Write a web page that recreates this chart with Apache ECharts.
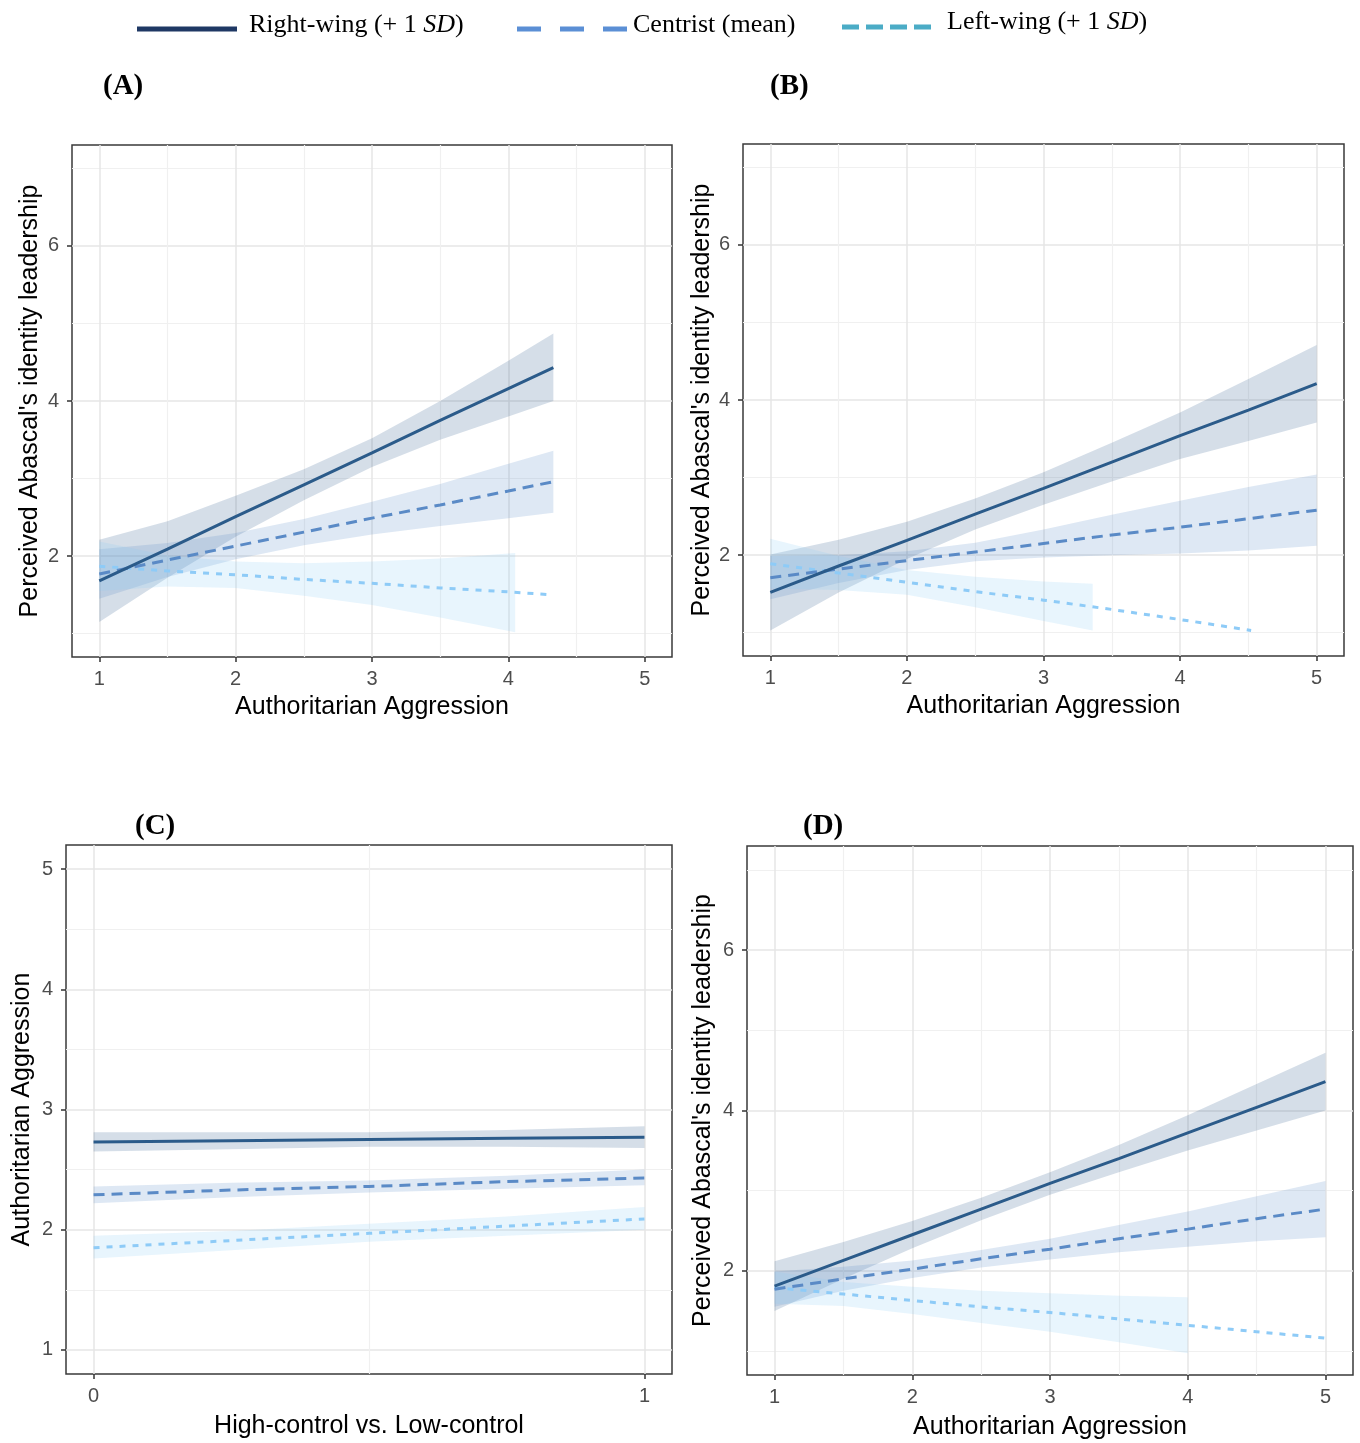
<!DOCTYPE html>
<html><head><meta charset="utf-8">
<script src="https://cdn.jsdelivr.net/npm/echarts@6/dist/echarts.min.js"></script>
<style>html,body{margin:0;padding:0;background:#fff}#c{width:1360px;height:1443px}</style>
</head><body><div id="c"></div>
<script>
// ---------------- DATA ----------------
// Panel A
const A_x          = [1, 1.5, 2, 2.5, 3, 3.5, 4, 4.33];
const A_right      = [1.68, 2.09, 2.51, 2.92, 3.33, 3.75, 4.16, 4.43];
const A_rightLo    = [1.15, 1.72, 2.25, 2.72, 3.15, 3.50, 3.80, 4.00];
const A_rightHi    = [2.21, 2.45, 2.78, 3.12, 3.52, 4.00, 4.52, 4.87];
const A_center     = [1.77, 1.95, 2.13, 2.31, 2.49, 2.66, 2.84, 2.96];
const A_centerLo   = [1.45, 1.73, 1.96, 2.14, 2.28, 2.39, 2.49, 2.56];
const A_centerHi   = [2.09, 2.17, 2.30, 2.48, 2.70, 2.93, 3.19, 3.36];
const A_left       = [1.87, 1.81, 1.76, 1.70, 1.65, 1.59, 1.54, 1.50];
const A_leftBandX  = [1, 1.5, 2, 2.5, 3, 3.5, 4.05];
const A_leftLo     = [1.55, 1.61, 1.59, 1.49, 1.37, 1.21, 1.02];
const A_leftHi     = [2.19, 2.01, 1.93, 1.91, 1.93, 1.97, 2.04];
// Panel B
const B_x          = [1, 1.5, 2, 2.5, 3, 3.5, 4, 4.5, 5];
const B_right      = [1.52, 1.86, 2.19, 2.53, 2.86, 3.20, 3.54, 3.87, 4.21];
const B_rightLo    = [1.03, 1.52, 1.95, 2.33, 2.65, 2.95, 3.24, 3.47, 3.71];
const B_rightHi    = [2.01, 2.20, 2.43, 2.73, 3.07, 3.45, 3.84, 4.27, 4.71];
const B_center     = [1.71, 1.82, 1.93, 2.04, 2.15, 2.26, 2.36, 2.47, 2.58];
const B_centerLo   = [1.43, 1.64, 1.81, 1.92, 1.97, 2.00, 2.02, 2.06, 2.12];
const B_centerHi   = [1.99, 2.00, 2.05, 2.16, 2.33, 2.52, 2.70, 2.88, 3.04];
const B_leftX      = [1, 1.5, 2, 2.5, 3, 3.5, 4, 4.52];
const B_left       = [1.89, 1.77, 1.65, 1.53, 1.42, 1.30, 1.17, 1.03];
const B_leftBandX  = [1, 1.5, 2, 2.5, 3, 3.36];
const B_leftLo     = [1.57, 1.55, 1.49, 1.33, 1.15, 1.03];
const B_leftHi     = [2.21, 1.99, 1.81, 1.72, 1.66, 1.63];
// Panel C
const C_x          = [0, 0.25, 0.5, 0.75, 1];
const C_right      = [2.73, 2.74, 2.75, 2.76, 2.77];
const C_rightLo    = [2.65, 2.67, 2.69, 2.69, 2.68];
const C_rightHi    = [2.81, 2.81, 2.81, 2.83, 2.86];
const C_center     = [2.29, 2.33, 2.36, 2.40, 2.43];
const C_centerLo   = [2.22, 2.27, 2.31, 2.34, 2.37];
const C_centerHi   = [2.36, 2.39, 2.41, 2.45, 2.50];
const C_left       = [1.85, 1.91, 1.97, 2.03, 2.09];
const C_leftLo     = [1.76, 1.83, 1.90, 1.95, 2.00];
const C_leftHi     = [1.95, 1.99, 2.05, 2.11, 2.19];
// Panel D
const D_x          = [1, 1.5, 2, 2.5, 3, 3.5, 4, 4.5, 5];
const D_right      = [1.81, 2.13, 2.45, 2.77, 3.09, 3.40, 3.72, 4.04, 4.36];
const D_rightLo    = [1.50, 1.90, 2.28, 2.63, 2.95, 3.23, 3.50, 3.75, 4.00];
const D_rightHi    = [2.12, 2.36, 2.62, 2.91, 3.23, 3.57, 3.94, 4.33, 4.72];
const D_center     = [1.77, 1.90, 2.02, 2.15, 2.27, 2.40, 2.52, 2.65, 2.77];
const D_centerLo   = [1.55, 1.75, 1.91, 2.04, 2.14, 2.23, 2.30, 2.37, 2.42];
const D_centerHi   = [1.99, 2.05, 2.13, 2.26, 2.40, 2.57, 2.74, 2.93, 3.12];
const D_left       = [1.79, 1.71, 1.63, 1.55, 1.48, 1.40, 1.32, 1.24, 1.16];
const D_leftBandX  = [1, 1.5, 2, 2.5, 3, 3.5, 4];
const D_leftLo     = [1.59, 1.56, 1.46, 1.35, 1.24, 1.11, 0.97];
const D_leftHi     = [1.99, 1.86, 1.80, 1.75, 1.72, 1.69, 1.67];

// Tick values
const ticksX15      = [1, 2, 3, 4, 5];
const minorX15      = [1.5, 2.5, 3.5, 4.5];
const ticksY17      = [2, 4, 6];
const minorY17      = [1, 3, 5, 7];
const ticksXC       = [0, 1];
const minorXC       = [0.5];
const ticksYC       = [1, 2, 3, 4, 5];
const minorYC       = [1.5, 2.5, 3.5, 4.5];

const seriesNames = ['Right-wing (+ 1 SD)', 'Centrist (mean)', 'Left-wing (+ 1 SD)'];
const panelLabels = ['(A)', '(B)', '(C)', '(D)'];
const xTitleAA = 'Authoritarian Aggression';
const yTitlePIL = "Perceived Abascal's identity leadership";
const xTitleC = 'High-control vs. Low-control';

// ---------------- STYLE / LAYOUT ----------------
const COL_R = '#2b5b8a', COL_C = '#5a8ac6', COL_L = '#8ecbf7';
const BAND = {r: 'rgba(43,91,138,0.2)', c: 'rgba(90,138,198,0.2)', l: 'rgba(142,203,247,0.2)'};
const SANS = 'Liberation Sans, Arial, sans-serif';
const SERIF = 'Liberation Serif, Times New Roman, serif';

const panels = [
  {grid:{left:72, top:145, width:600, height:512}, xr:[0.8,5.2], yr:[0.7,7.3], xt:ticksX15, xm:minorX15, yt:ticksY17, ym:minorY17, xn:xTitleAA, yn:yTitlePIL, xg:38, yg:29},
  {grid:{left:743, top:144, width:601, height:512}, xr:[0.8,5.2], yr:[0.7,7.3], xt:ticksX15, xm:minorX15, yt:ticksY17, ym:minorY17, xn:xTitleAA, yn:yTitlePIL, xg:38, yg:27},
  {grid:{left:66, top:845, width:606, height:529}, xr:[-0.05,1.05], yr:[0.8,5.2], xt:ticksXC, xm:minorXC, yt:ticksYC, ym:minorYC, xn:xTitleC, yn:xTitleAA, xg:40, yg:31},
  {grid:{left:747, top:846, width:606, height:529}, xr:[0.8,5.2], yr:[0.7,7.3], xt:ticksX15, xm:minorX15, yt:ticksY17, ym:minorY17, xn:xTitleAA, yn:yTitlePIL, xg:40, yg:31}
];

const grids = [], xAxes = [], yAxes = [], series = [];

function majorAxis(dim, gi, range, ticks, name, gap) {
  return {
    type: 'value', gridIndex: gi, min: range[0], max: range[1],
    position: dim === 'x' ? 'bottom' : 'left',
    name: name, nameLocation: 'middle', nameGap: gap,
    nameTextStyle: {fontFamily: SANS, fontSize: 25, color: '#000'},
    axisLine: {show: false, onZero: false},
    axisTick: {show: true, length: 5, customValues: ticks, lineStyle: {color: '#333', width: 1.5}},
    axisLabel: {show: true, customValues: ticks, margin: dim === 'x' ? 12 : 13, fontFamily: SANS, fontSize: 20, color: '#4d4d4d'},
    splitLine: {show: true, lineStyle: {color: '#e6e6e6', width: 1.5}},
    minorTick: {show: false}, minorSplitLine: {show: false}
  };
}
function minorAxis(dim, gi, range, ticks) {
  return {
    type: 'value', gridIndex: gi, min: range[0], max: range[1],
    position: dim === 'x' ? 'bottom' : 'left',
    axisLine: {show: false, onZero: false},
    axisTick: {show: false, customValues: ticks},
    axisLabel: {show: false, customValues: ticks},
    splitLine: {show: true, lineStyle: {color: '#f0f0f0', width: 1.2}}
  };
}
function band(ai, xs, lo, hi, fill) {
  return {
    type: 'custom', xAxisIndex: ai, yAxisIndex: ai, clip: true, silent: true,
    data: xs.map((x, i) => [x, lo[i], hi[i]]),
    renderItem: function (params, api) {
      if (params.dataIndex !== 0) return null;
      const pts = [];
      for (let i = 0; i < xs.length; i++) pts.push(api.coord([xs[i], hi[i]]));
      for (let i = xs.length - 1; i >= 0; i--) pts.push(api.coord([xs[i], lo[i]]));
      return {type: 'polygon', shape: {points: pts}, style: {fill: fill}};
    }
  };
}
function line(ai, name, xs, ys, color, type) {
  return {
    type: 'line', name: name, xAxisIndex: ai, yAxisIndex: ai, clip: true,
    symbol: 'none', showSymbol: false, silent: true,
    data: xs.map((x, i) => [x, ys[i]]),
    lineStyle: {color: color, width: 3, type: type, cap: 'butt'}
  };
}

const panelData = [
  {rx:A_x, r:A_right, rlo:A_rightLo, rhi:A_rightHi, cx:A_x, c:A_center, clo:A_centerLo, chi:A_centerHi, lx:A_x, l:A_left, lbx:A_leftBandX, llo:A_leftLo, lhi:A_leftHi},
  {rx:B_x, r:B_right, rlo:B_rightLo, rhi:B_rightHi, cx:B_x, c:B_center, clo:B_centerLo, chi:B_centerHi, lx:B_leftX, l:B_left, lbx:B_leftBandX, llo:B_leftLo, lhi:B_leftHi},
  {rx:C_x, r:C_right, rlo:C_rightLo, rhi:C_rightHi, cx:C_x, c:C_center, clo:C_centerLo, chi:C_centerHi, lx:C_x, l:C_left, lbx:C_x, llo:C_leftLo, lhi:C_leftHi},
  {rx:D_x, r:D_right, rlo:D_rightLo, rhi:D_rightHi, cx:D_x, c:D_center, clo:D_centerLo, chi:D_centerHi, lx:D_x, l:D_left, lbx:D_leftBandX, llo:D_leftLo, lhi:D_leftHi}
];

panels.forEach((p, gi) => {
  grids.push(Object.assign({show: true, borderColor: '#3a3a3a', borderWidth: 1.5, backgroundColor: 'rgba(0,0,0,0)', containLabel: false}, p.grid));
  xAxes.push(majorAxis('x', gi, p.xr, p.xt, p.xn, p.xg));
  xAxes.push(minorAxis('x', gi, p.xr, p.xm));
  yAxes.push(majorAxis('y', gi, p.yr, p.yt, p.yn, p.yg));
  yAxes.push(minorAxis('y', gi, p.yr, p.ym));
  const ai = gi * 2;
  const d = panelData[gi];
  series.push(band(ai, d.rx, d.rlo, d.rhi, BAND.r));
  series.push(band(ai, d.cx, d.clo, d.chi, BAND.c));
  series.push(band(ai, d.lbx, d.llo, d.lhi, BAND.l));
  series.push(line(ai, seriesNames[2], d.lx, d.l, COL_L, [6, 7]));
  series.push(line(ai, seriesNames[1], d.cx, d.c, COL_C, [11, 7]));
  series.push(line(ai, seriesNames[0], d.rx, d.r, COL_R, 'solid'));
});

const labelPos = [[103, 87], [770, 87], [135, 827], [803, 827]];
const graphics = [
  {type: 'line', shape: {x1: 137, y1: 29, x2: 237, y2: 29}, style: {stroke: '#1f3864', lineWidth: 5}},
  {type: 'line', shape: {x1: 517, y1: 29, x2: 627, y2: 29}, style: {stroke: '#5b8fd5', lineWidth: 5, lineDash: [24, 19]}},
  {type: 'line', shape: {x1: 842, y1: 27, x2: 937, y2: 27}, style: {stroke: '#4bacc6', lineWidth: 5, lineDash: [17, 7]}},
  {type: 'text', style: {x: 249, y: 25, text: 'Right-wing (+ 1 {i|SD})', rich: {i: {fontStyle: 'italic', fontFamily: SERIF, fontSize: 26}}, font: '26px ' + SERIF, fill: '#000', textVerticalAlign: 'middle'}},
  {type: 'text', style: {x: 633, y: 25, text: 'Centrist (mean)', font: '26px ' + SERIF, fill: '#000', textVerticalAlign: 'middle'}},
  {type: 'text', style: {x: 947, y: 22, text: 'Left-wing (+ 1 {i|SD})', rich: {i: {fontStyle: 'italic', fontFamily: SERIF, fontSize: 26}}, font: '26px ' + SERIF, fill: '#000', textVerticalAlign: 'middle'}}
];
panelLabels.forEach((t, i) => {
  graphics.push({type: 'text', style: {x: labelPos[i][0], y: labelPos[i][1], text: t, font: 'bold 29px ' + SERIF, fill: '#000', textVerticalAlign: 'middle'}});
});

const chart = echarts.init(document.getElementById('c'), null, {renderer: 'canvas'});
chart.setOption({
  animation: false,
  backgroundColor: '#fff',
  grid: grids, xAxis: xAxes, yAxis: yAxes, series: series,
  graphic: graphics
});
</script>
</body></html>
